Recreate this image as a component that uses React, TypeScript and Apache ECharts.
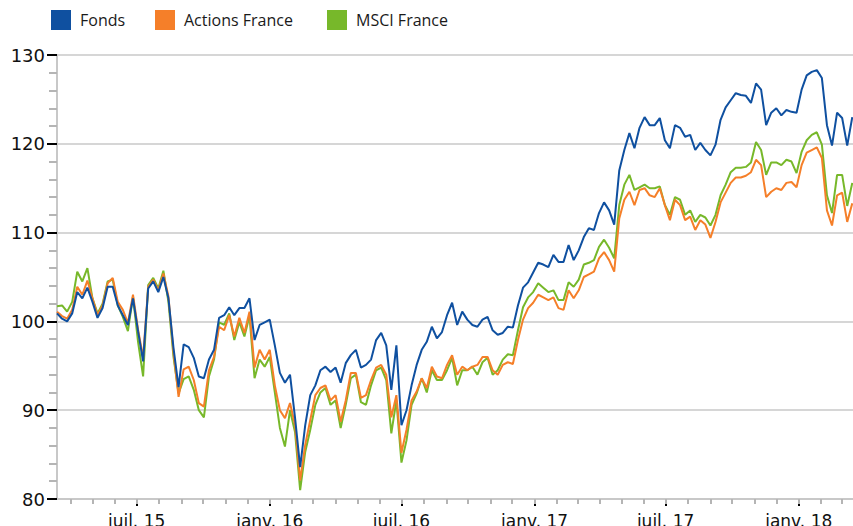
import React, { useEffect, useRef } from "react";
import * as echarts from "echarts";

// Weekly observations starting 13 March 2015
const START_DATE = "2015-03-13";
const STEP_DAYS = 7;

const fonds = [
  100.9, 100.3, 100.0, 100.9, 103.3, 102.6, 103.8, 102.2, 100.4, 101.5,
  103.9, 103.9, 101.8, 100.7, 99.6, 102.6, 98.9, 95.5, 103.7, 104.5,
  103.3, 105.0, 102.6, 97.0, 92.6, 97.4, 97.1, 95.9, 93.8, 93.6,
  95.7, 96.8, 100.4, 100.7, 101.6, 100.7, 101.5, 101.5, 102.6, 97.9,
  99.6, 99.9, 100.2, 97.3, 94.2, 93.1, 94.0, 89.1, 83.6, 88.3,
  91.7, 92.8, 94.5, 94.9, 94.3, 94.8, 93.1, 95.3, 96.2, 96.8,
  94.8, 95.1, 95.7, 97.9, 98.7, 97.3, 92.3, 97.3, 88.3, 90.0,
  92.8, 95.1, 96.8, 97.7, 99.4, 98.1, 98.8, 100.7, 102.1, 99.6,
  101.1, 100.2, 99.6, 99.4, 100.2, 100.5, 99.0, 98.5, 98.7, 99.4,
  99.3, 101.8, 103.8, 104.4, 105.5, 106.6, 106.4, 106.1, 107.5, 106.7,
  106.7, 108.6, 106.9, 108.0, 109.5, 110.5, 110.3, 112.2, 113.4, 112.5,
  110.9, 117.0, 119.3, 121.2, 119.5, 121.8, 123.0, 122.1, 122.1, 122.9,
  120.4, 119.5, 122.1, 121.8, 120.8, 121.0, 119.3, 120.1, 119.3, 118.7,
  119.9, 122.7, 124.1, 124.9, 125.7, 125.5, 125.4, 124.6, 126.8, 126.1,
  122.1, 123.5, 124.0, 123.2, 123.8, 123.6, 123.5, 126.1, 127.7, 128.1,
  128.3, 127.4, 122.1, 119.8, 123.5, 122.9, 119.8, 123.0,
];

const actionsFrance = [
  101.1, 100.6, 100.3, 101.3, 103.9, 103.0, 104.6, 102.6, 100.7, 101.8,
  104.3, 104.9, 102.2, 101.3, 99.8, 103.0, 99.1, 95.9, 103.9, 104.7,
  103.5, 105.4, 102.8, 96.5, 91.5, 94.6, 94.9, 93.4, 90.8, 90.4,
  94.5, 96.0, 99.4, 99.0, 100.7, 98.3, 100.4, 98.7, 101.1, 94.8,
  96.8, 95.7, 96.8, 92.8, 90.0, 89.1, 90.8, 88.3, 82.1, 86.1,
  88.9, 91.7, 92.5, 92.8, 91.1, 91.7, 88.7, 91.1, 94.2, 94.2,
  91.4, 91.7, 93.4, 94.8, 95.1, 94.0, 89.2, 91.7, 85.2, 87.8,
  91.1, 92.1, 93.6, 92.5, 94.9, 93.8, 93.6, 95.1, 96.2, 94.0,
  94.9, 94.5, 94.9, 95.1, 96.0, 96.0, 94.5, 94.0, 95.1, 95.4,
  95.2, 97.9, 100.2, 101.5, 102.1, 103.0, 102.7, 102.4, 102.7, 101.5,
  101.3, 103.5, 102.6, 103.5, 105.0, 105.3, 105.6, 107.1, 107.8, 106.9,
  105.6, 111.6, 113.7, 114.6, 113.1, 114.8, 115.0, 114.2, 114.0, 115.0,
  113.1, 111.4, 113.7, 113.1, 111.4, 111.8, 110.3, 111.4, 110.9, 109.4,
  111.2, 113.4, 114.5, 115.6, 116.2, 116.2, 116.4, 116.8, 118.2, 117.6,
  114.0, 114.6, 115.0, 114.8, 115.6, 115.7, 115.1, 117.6, 119.0, 119.3,
  119.6, 118.4, 112.5, 110.8, 114.2, 114.5, 111.2, 113.3,
];

const msciFrance = [
  101.7, 101.8, 101.1, 102.2, 105.6, 104.5, 106.0, 102.6, 100.9, 102.0,
  104.5, 104.7, 101.8, 100.5, 98.9, 102.8, 97.7, 93.8, 104.1, 104.9,
  103.7, 105.7, 102.2, 96.0, 91.9, 93.5, 93.8, 92.3, 90.0, 89.2,
  93.8, 95.7, 99.9, 99.6, 100.9, 97.9, 99.9, 98.3, 100.6, 93.6,
  95.7, 94.9, 96.0, 92.0, 88.0, 85.9, 90.0, 87.5, 81.0, 85.3,
  87.8, 90.6, 92.0, 92.5, 90.6, 91.1, 88.0, 90.6, 93.6, 94.0,
  90.9, 90.6, 92.8, 94.5, 94.8, 93.4, 87.4, 91.1, 84.1, 86.6,
  90.6, 91.9, 93.6, 92.0, 94.5, 93.4, 93.4, 94.5, 95.9, 92.8,
  94.5, 94.5, 94.9, 94.0, 95.4, 95.9, 94.0, 94.5, 95.7, 96.3,
  96.2, 99.0, 101.6, 102.7, 103.3, 104.3, 103.8, 103.3, 103.5, 102.4,
  102.4, 104.4, 103.9, 104.7, 106.4, 106.6, 106.9, 108.4, 109.2, 108.3,
  107.1, 113.1, 115.4, 116.5, 114.8, 115.1, 115.4, 115.0, 115.0, 115.2,
  113.1, 112.0, 114.0, 113.7, 112.0, 112.5, 111.2, 112.0, 111.7, 110.8,
  112.0, 114.2, 115.4, 116.8, 117.3, 117.3, 117.4, 117.9, 120.2, 119.3,
  116.5, 117.9, 117.9, 117.6, 118.2, 118.0, 116.7, 119.1, 120.4, 121.0,
  121.3, 119.9, 114.2, 112.2, 116.5, 116.5, 113.0, 115.6,
];

const SERIES_NAMES = ["Fonds", "Actions France", "MSCI France"];
const SERIES_COLORS = ["#0f50a0", "#f57f29", "#77b82a"];

// Labelled ticks (yyyy-mm)
const MAJOR_TICKS = ["2015-07", "2016-01", "2016-07", "2017-01", "2017-07", "2018-01"];
const MONTH_NAMES = ["janv.", "févr.", "mars", "avr.", "mai", "juin", "juil.", "août", "sept.", "oct.", "nov.", "déc."];
const X_MIN = "2015-03-13";
const X_MAX = "2018-03-17";

const Y_MIN = 80;
const Y_MAX = 130;
const Y_INTERVAL = 10;

const DAY = 86400000;
const toTs = (s: string) => {
  const p = s.split("-").map(Number);
  return Date.UTC(p[0], p[1] - 1, p[2] || 1);
};

export default function App() {
  const ref = useRef<HTMLDivElement>(null);

  useEffect(() => {
    if (!ref.current) return;
    const chart = echarts.init(ref.current, undefined, { renderer: "svg" });
    const start = toTs(START_DATE);
    const dates = fonds.map((_, i) => start + i * STEP_DAYS * DAY);
    const majorTs = MAJOR_TICKS.map(toTs);
    const xMin = toTs(X_MIN);
    const xMax = toTs(X_MAX);
    const monthTs: number[] = [];
    for (let y = 2015; y <= 2018; y++) {
      for (let m = 0; m < 12; m++) {
        const t = Date.UTC(y, m, 1);
        if (t > xMin && t < xMax) monthTs.push(t);
      }
    }
    const seriesData = [fonds, actionsFrance, msciFrance];
    const zs = [5, 4, 3];

    const legendLefts = [51, 155, 327];
    const fontLegend = "'Open Sans', 'Noto Sans', sans-serif";
    const fontAxis = "'DejaVu Sans', Verdana, sans-serif";

    chart.setOption({
      animation: false,
      backgroundColor: "#ffffff",
      legend: SERIES_NAMES.map((n, i) => ({
        data: [n],
        left: legendLefts[i],
        top: 10,
        itemWidth: 20,
        itemHeight: 20,
        itemGap: 10,
        icon: "rect",
        padding: 0,
        textStyle: { fontSize: 16, color: "#1a1a1a", fontFamily: fontLegend, padding: [2, 0, 0, 4] },
      })),
      grid: { left: 57, right: 0, top: 55, bottom: 27, containLabel: false, outerBoundsMode: "none" },
      xAxis: [
        {
          type: "value",
          min: xMin,
          max: xMax,
          axisLine: { show: true, lineStyle: { color: "#c8c8c8", width: 2 } },
          axisTick: {
            show: true,
            customValues: majorTs,
            length: 7,
            lineStyle: { color: "#000", width: 2 },
          },
          axisLabel: {
            show: true,
            customValues: majorTs,
            margin: 13,
            fontSize: 17,
            color: "#111",
            fontFamily: fontAxis,
            formatter: (v: number) => {
              const d = new Date(v);
              return MONTH_NAMES[d.getUTCMonth()] + " " + String(d.getUTCFullYear() % 100);
            },
          },
          splitLine: { show: false },
        },
        {
          type: "value",
          min: xMin,
          max: xMax,
          position: "bottom",
          axisLine: { show: false },
          axisTick: {
            show: true,
            customValues: monthTs,
            length: 5,
            lineStyle: { color: "#b5b5b5", width: 2 },
          },
          axisLabel: { show: false },
          splitLine: { show: false },
        },
      ],
      yAxis: {
        type: "value",
        min: Y_MIN,
        max: Y_MAX,
        interval: Y_INTERVAL,
        axisLine: { show: true, lineStyle: { color: "#c8c8c8", width: 2 } },
        axisTick: { show: true, length: 10, lineStyle: { color: "#000", width: 2 } },
        minorTick: { show: true, splitNumber: 5, length: 8, lineStyle: { color: "#b5b5b5", width: 2 } },
        axisLabel: { margin: 12, fontSize: 18, color: "#111", fontFamily: fontAxis },
        splitLine: { show: true, lineStyle: { color: "#d6d6d6", width: 2 } },
      },
      series: SERIES_NAMES.map((n, i) => ({
        name: n,
        type: "line",
        xAxisIndex: 0,
        data: seriesData[i].map((v, k) => [dates[k], v]),
        showSymbol: false,
        symbol: "none",
        z: zs[i],
        color: SERIES_COLORS[i],
        lineStyle: { width: 2, color: SERIES_COLORS[i] },
      })),
    });

    return () => chart.dispose();
  }, []);

  return <div ref={ref} style={{ width: 853, height: 526, position: "absolute", left: 0, top: 0 }} />;
}
